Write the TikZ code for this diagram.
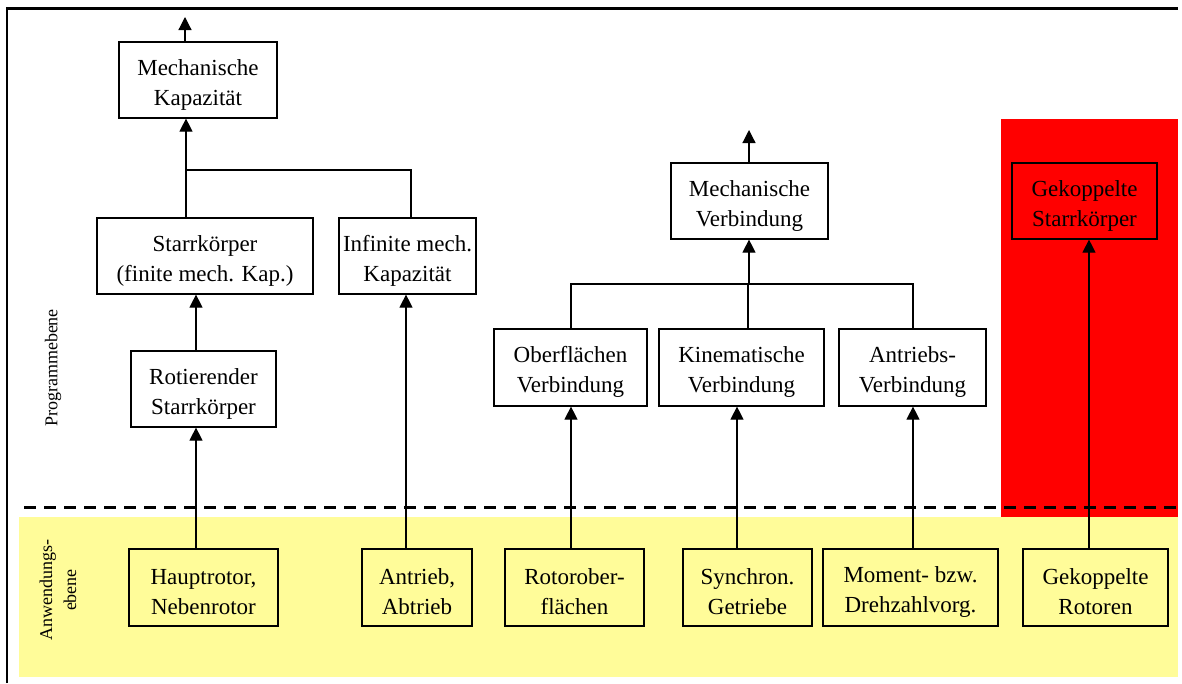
\documentclass[tikz,border=0pt]{standalone}
\usepackage{fontspec}
\setmainfont{Liberation Serif}
\usetikzlibrary{arrows.meta}
\definecolor{appyellow}{RGB}{255,252,153}
\definecolor{progred}{RGB}{255,0,0}

\begin{document}
\begin{tikzpicture}[x=1pt,y=-1pt,
  box/.style={draw=black, line width=1.2pt, align=center, inner sep=0pt,
              text height=55pt, font=\fontsize{23}{30}\selectfont},
  conn/.style={line width=1.2pt},
  arr/.style={conn, -{Triangle[length=13pt,width=13pt]}},
  levellabel/.style={rotate=90, align=center, inner sep=0pt,
              font=\fontsize{18}{24}\selectfont}
]
\useasboundingbox (0,0) rectangle (1182,683);

% level backgrounds
\fill[appyellow] (19,517) rectangle (1178,677);
\fill[progred] (1001,119) rectangle (1178,517);

% level separator
\draw[line width=3pt, dash pattern=on 12pt off 8pt] (24,507) -- (1178,507);

% frame
\draw[line width=2.5pt] (7,683) -- (7,8.5) -- (1178,8.5);

% level names
\node[levellabel] (lprog) at (53,368) {Programmebene};
\node[levellabel] (lanw) at (58,590) {Anwendungs-\\ebene};

% program level
\node[box, minimum width=158pt, minimum height=76pt] (mk)  at (198,80)    {Mechanische\\Kapazität};
\node[box, minimum width=216pt, minimum height=76pt] (sk)  at (205,256)   {Starrkörper\\(finite mech. Kap.)};
\node[box, minimum width=137pt, minimum height=76pt] (imk) at (407.5,256) {Infinite mech.\\Kapazität};
\node[box, minimum width=145pt, minimum height=76pt] (rs)  at (203.5,389) {Rotierender\\Starrkörper};
\node[box, minimum width=157pt, minimum height=76pt] (mv)  at (749.5,201) {Mechanische\\Verbindung};
\node[box, minimum width=145pt, minimum height=76pt] (gs)  at (1084.5,201) {Gekoppelte\\Starrkörper};
\node[box, minimum width=153pt, minimum height=77pt] (ov)  at (570.5,367.5) {Oberflächen\\Verbindung};
\node[box, minimum width=165pt, minimum height=77pt] (kv)  at (741.5,367.5) {Kinematische\\Verbindung};
\node[box, minimum width=147pt, minimum height=77pt] (an)  at (912.5,367.5) {Antriebs-\\Verbindung};

% application level
\node[box, minimum width=149pt, minimum height=77pt] (hr) at (203.5,587.5)  {Hauptrotor,\\Nebenrotor};
\node[box, minimum width=110pt, minimum height=77pt] (aa) at (417,587.5)    {Antrieb,\\Abtrieb};
\node[box, minimum width=139pt, minimum height=77pt] (ro) at (574.5,587.5)  {Rotorober-\\flächen};
\node[box, minimum width=129pt, minimum height=77pt] (sy) at (747.5,587.5)  {Synchron.\\Getriebe};
\node[box, minimum width=175pt, minimum height=77pt] (md) at (910.5,587.5)  {Moment- bzw.\\Drehzahlvorg.};
\node[box, minimum width=145pt, minimum height=77pt] (gr) at (1095.5,587.5) {Gekoppelte\\Rotoren};

% connector columns and junctions
\coordinate (cA)  at (196,0);
\coordinate (cB)  at (186,0);
\coordinate (cI1) at (406,0);
\coordinate (cI2) at (411,0);
\coordinate (cO)  at (571,0);
\coordinate (cK1) at (737,0);
\coordinate (cK2) at (748,0);
\coordinate (cAn) at (913,0);
\coordinate (cG)  at (1089,0);
\coordinate (jL)  at (186,170);
\coordinate (jR)  at (749,284);
\coordinate (topL) at (185,17);
\coordinate (topR) at (749,130);

% left tree
\draw[arr] (hr.north -| cA) -- (rs.south -| cA);
\draw[arr] (rs.north -| cA) -- (sk.south -| cA);
\draw[arr] (aa.north -| cI1) -- (imk.south -| cI1);
\draw[arr] (sk.north -| cB) -- (mk.south -| cB);
\draw[conn] (jL) -- (cI2 |- jL) -- (imk.north -| cI2);
\draw[arr] (mk.north -| topL) -- (topL);

% middle tree
\draw[arr] (ro.north -| cO) -- (ov.south -| cO);
\draw[arr] (sy.north -| cK1) -- (kv.south -| cK1);
\draw[arr] (md.north -| cAn) -- (an.south -| cAn);
\draw[conn] (ov.north -| cO) -- (cO |- jR) -- (cAn |- jR) -- (an.north -| cAn);
\draw[conn] (kv.north -| cK2) -- (cK2 |- jR);
\draw[arr] (jR) -- (mv.south -| jR);
\draw[arr] (mv.north -| topR) -- (topR);

% right column
\draw[arr] (gr.north -| cG) -- (gs.south -| cG);
\end{tikzpicture}
\end{document}
